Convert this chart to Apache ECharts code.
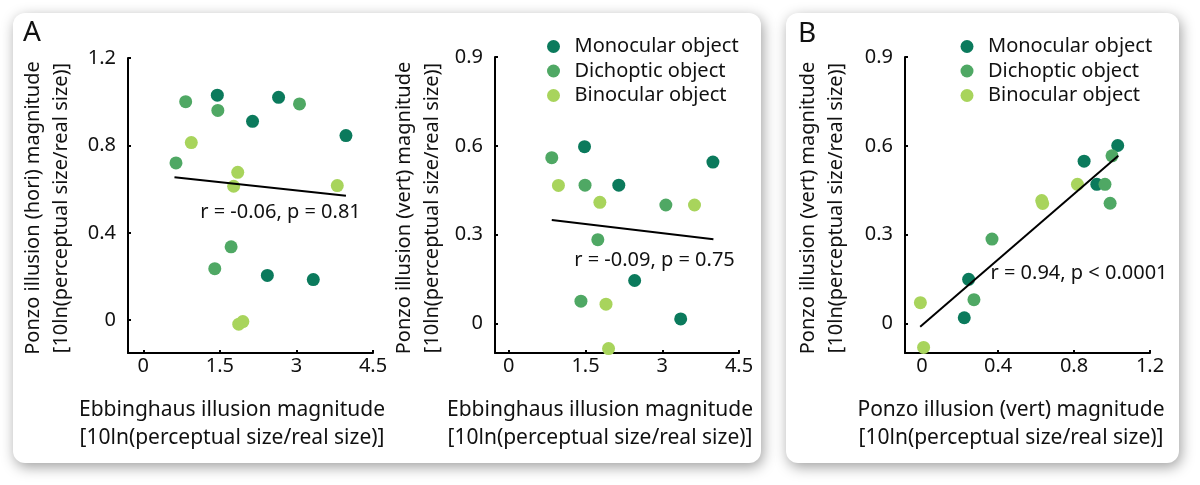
<!DOCTYPE html>
<html>
<head>
<meta charset="utf-8">
<script src="https://cdn.jsdelivr.net/npm/echarts@6/dist/echarts.min.js"></script>
<style>
html,body{margin:0;padding:0;background:#fff;}
#c{width:1200px;height:485px;}
</style>
</head>
<body>
<div id="c"></div>
<script>
// ---- data ----
const seriesNames = ['Monocular object', 'Dichoptic object', 'Binocular object'];
// Panel A (left): x = Ebbinghaus, y = Ponzo (hori)
const monoA1 = [[1.45,1.03],[2.65,1.02],[2.14,0.91],[3.97,0.845],[2.43,0.205],[3.33,0.186]];
const dichA1 = [[0.83,1.0],[1.46,0.96],[3.06,0.99],[0.64,0.72],[1.72,0.336],[1.40,0.236]];
const binoA1 = [[0.94,0.813],[1.85,0.677],[1.77,0.613],[3.80,0.616],[1.87,-0.018],[1.95,-0.006]];
const fitA1 = [[0.61,0.654],[3.97,0.57]];
// Panel A (right): x = Ebbinghaus, y = Ponzo (vert)
const monoA2 = [[1.48,0.597],[2.15,0.467],[3.99,0.545],[2.46,0.145],[3.36,0.015]];
const dichA2 = [[0.84,0.56],[1.49,0.467],[3.07,0.40],[1.74,0.283],[1.41,0.075]];
const binoA2 = [[0.97,0.466],[1.78,0.409],[3.63,0.40],[1.90,0.065],[1.95,-0.085]];
const fitA2 = [[0.84,0.349],[4.0,0.284]];
// Panel B: x = Ponzo (vert) , y = Ponzo (vert)
const monoB = [[1.03,0.601],[0.853,0.548],[0.92,0.47],[0.245,0.149],[0.222,0.019]];
const dichB = [[1.0,0.566],[0.963,0.47],[0.99,0.406],[0.368,0.285],[0.273,0.08]];
const binoB = [[0.818,0.47],[0.63,0.415],[0.635,0.405],[-0.009,0.07],[0.008,-0.081]];
const fitB = [[-0.01,-0.011],[1.033,0.566]];

const xTicksA = [0, 1.5, 3, 4.5];
const yTicksA1 = [0, 0.4, 0.8, 1.2];
const yTicksA2 = [0, 0.3, 0.6, 0.9];
const xTicksB = [0, 0.4, 0.8, 1.2];
const yTicksB = [0, 0.3, 0.6, 0.9];

const statA1 = 'r = -0.06, p = 0.81';
const statA2 = 'r = -0.09, p = 0.75';
const statB = 'r = 0.94, p < 0.0001';
const yTitleA1 = 'Ponzo illusion (hori) magnitude\n[10ln(perceptual size/real size)]';
const yTitleA2 = 'Ponzo illusion (vert) magnitude\n[10ln(perceptual size/real size)]';
const yTitleB = 'Ponzo illusion (vert) magnitude\n[10ln(perceptual size/real size)]';
const xTitleA = 'Ebbinghaus illusion magnitude\n[10ln(perceptual size/real size)]';
const xTitleB = 'Ponzo illusion (vert) magnitude\n[10ln(perceptual size/real size)]';

// ---- style ----
const colors = ['#0b7a5c', '#4fa864', '#a8d45c'];
const FONT = '"Noto Sans", "Open Sans", sans-serif';
const TXT = '#111';

function xAxis(gi, min, max, ticks) {
  return {
    type: 'value', gridIndex: gi, min: min, max: max,
    axisLine: {show: true, onZero: false, lineStyle: {color: '#000', width: 2}},
    axisTick: {show: true, inside: true, length: 3, lineStyle: {color: '#000', width: 2}, customValues: ticks},
    axisLabel: {color: TXT, fontSize: 20, fontFamily: FONT, margin: 3, customValues: ticks},
    splitLine: {show: false}
  };
}
function yAxis(gi, min, max, ticks) {
  return {
    type: 'value', gridIndex: gi, min: min, max: max,
    axisLine: {show: true, onZero: false, lineStyle: {color: '#000', width: 2}},
    axisTick: {show: true, inside: true, length: 3, lineStyle: {color: '#000', width: 2}, customValues: ticks},
    axisLabel: {color: TXT, fontSize: 20, fontFamily: FONT, margin: 12, customValues: ticks},
    splitLine: {show: false}
  };
}
function scatter(name, gi, data, ci) {
  return {name: name, type: 'scatter', xAxisIndex: gi, yAxisIndex: gi, data: data,
    symbolSize: 13, itemStyle: {color: colors[ci], opacity: 1}, z: 3};
}
function fit(gi, data) {
  return {type: 'line', xAxisIndex: gi, yAxisIndex: gi, data: data, symbol: 'none',
    lineStyle: {color: '#000', width: 2}, z: 4, silent: true};
}
function txt(x, y, s, size, opts) {
  return Object.assign({type: 'text', x: x, y: y, z: 10,
    style: Object.assign({text: s, fill: TXT, font: size + 'px ' + FONT, textAlign: 'center', textVerticalAlign: 'middle', lineHeight: 28}, opts || {})});
}
function rtxt(x, y, s) {
  return {type: 'text', x: x, y: y, rotation: Math.PI / 2, z: 10,
    style: {text: s, fill: TXT, font: '20px ' + FONT, textAlign: 'center', textVerticalAlign: 'middle', lineHeight: 28}};
}
function panel(x, y, w, h) {
  return {type: 'rect', z: -10, shape: {x: x, y: y, width: w, height: h, r: 12},
    style: {fill: '#fff', shadowBlur: 14, shadowColor: 'rgba(0,0,0,0.38)', shadowOffsetX: 2, shadowOffsetY: 4}};
}
function legend(left) {
  return {data: seriesNames, orient: 'vertical', left: left, top: 31.5, icon: 'circle',
    itemWidth: 32, itemHeight: 13, itemGap: 4.5, symbolKeepAspect: true,
    textStyle: {fontSize: 20, fontFamily: FONT, color: TXT, lineHeight: 20}};
}

const chart = echarts.init(document.getElementById('c'), null, {renderer: 'canvas'});
chart.setOption({
  animation: false,
  backgroundColor: '#fff',
  grid: [
    {left: 128, top: 58, width: 245, height: 295},
    {left: 495, top: 57, width: 244, height: 296},
    {left: 905, top: 57, width: 245, height: 296}
  ],
  xAxis: [xAxis(0, -0.3, 4.5, xTicksA), xAxis(1, -0.27, 4.5, xTicksA), xAxis(2, -0.09, 1.2, xTicksB)],
  yAxis: [yAxis(0, -0.15, 1.2, yTicksA1), yAxis(1, -0.1, 0.9, yTicksA2), yAxis(2, -0.1, 0.9, yTicksB)],
  legend: [legend(542), legend(955.5)],
  series: [
    scatter(seriesNames[0], 0, monoA1, 0), scatter(seriesNames[1], 0, dichA1, 1), scatter(seriesNames[2], 0, binoA1, 2), fit(0, fitA1),
    scatter(seriesNames[0], 1, monoA2, 0), scatter(seriesNames[1], 1, dichA2, 1), scatter(seriesNames[2], 1, binoA2, 2), fit(1, fitA2),
    scatter(seriesNames[0], 2, monoB, 0), scatter(seriesNames[1], 2, dichB, 1), scatter(seriesNames[2], 2, binoB, 2), fit(2, fitB)
  ],
  graphic: [
    panel(13, 13, 748, 450),
    panel(786, 13, 393, 450),
    txt(32, 33, 'A', 28),
    txt(807, 34, 'B', 28),
    rtxt(47, 208, yTitleA1),
    rtxt(418.5, 208, yTitleA2),
    rtxt(822, 208, yTitleB),
    txt(232, 424, xTitleA, 21),
    txt(600, 424, xTitleA, 21),
    txt(1011, 424, xTitleB, 21),
    txt(280.5, 212, statA1, 20),
    txt(654.5, 260, statA2, 20),
    txt(1079, 273, statB, 20)
  ]
});
</script>
</body>
</html>
